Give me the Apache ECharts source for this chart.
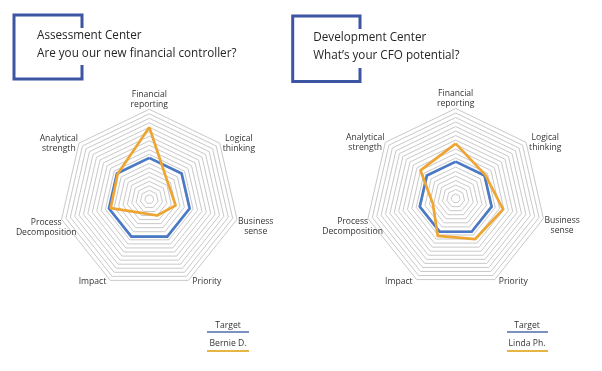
<!DOCTYPE html>
<html>
<head>
<meta charset="utf-8">
<script src="https://cdn.jsdelivr.net/npm/echarts@6/dist/echarts.min.js"></script>
<style>
html,body{margin:0;padding:0;background:#fff;}
#c{width:602px;height:371px;}
</style>
</head>
<body>
<div id="c"></div>
<script>
// ---- data (clockwise from top) ----
const categories = ['Financial reporting', 'Logical thinking', 'Business sense', 'Priority', 'Impact', 'Process Decomposition', 'Analytical strength'];
const leftTarget = [46, 46, 46, 46, 46, 46, 46];
const leftCandidate = [80, 27, 30, 20, 17, 44, 45];
const rightTarget = [41, 41, 41, 41, 41, 41, 41];
const rightCandidate = [61, 42, 54, 50, 46, 26, 50];
const leftTitles = ['Assessment Center', 'Are you our new financial controller?'];
const rightTitles = ['Development Center', 'What\u2019s your CFO potential?'];
const seriesNames = ['Target', 'Bernie D.', 'Linda Ph.'];
const axisMax = 100;

// ECharts places indicators counter-clockwise; reorder to get clockwise layout
const order = [0, 6, 5, 4, 3, 2, 1];
const reorder = arr => order.map(i => arr[i]);

// per-label text offsets to mimic reference placement
// spacer: height of an invisible leading line (shifts label down by spacer/2)
const labelPad = {
  'Financial reporting': {spacer: 0, left: 0, right: 0},
  'Logical thinking': {spacer: 0, left: 3, right: 0},
  'Business sense': {spacer: 15, left: 1, right: 0},
  'Priority': {spacer: 3, left: 4, right: 0},
  'Impact': {spacer: 3, left: 0, right: 4},
  'Process Decomposition': {spacer: 16, left: 0, right: -15},
  'Analytical strength': {spacer: 0, left: 0, right: 1}
};
const rich = {};
categories.forEach((n, i) => {
  const p = labelPad[n];
  rich['t' + i] = {fontSize: 8.6, lineHeight: 10, color: '#333', fontFamily: 'Open Sans', align: 'center', padding: [0, p.right, 0, p.left]};
  rich['s' + i] = {fontSize: 1, lineHeight: Math.max(p.spacer, 1), align: 'center'};
});
function nameFormatter(name) {
  const i = categories.indexOf(name);
  const p = labelPad[name];
  const body = name.split(' ').map(s => '{t' + i + '|' + s + '}').join('\n');
  return (p.spacer > 0 ? '{s' + i + '| }\n' : '') + body;
}

function radarCfg(cx, cy, r) {
  return {
    center: [cx, cy], radius: r, startAngle: 90, shape: 'polygon', splitNumber: 20,
    indicator: reorder(categories).map(n => ({name: n, max: axisMax, min: 0})),
    nameGap: 0,
    axisName: {formatter: nameFormatter, rich: rich, color: '#333', fontSize: 8.6, fontFamily: 'Open Sans'},
    axisLine: {show: false}, axisTick: {show: false}, axisLabel: {show: false},
    splitArea: {show: false},
    splitLine: {lineStyle: {color: '#c9c9c9', width: 1}}
  };
}

const blue = '#4a79c6';
const orange = '#eea533';

function titleGraphics(x0, x1, y0, y1, segTop, segBot, tx, ty, lines) {
  return [
    {type: 'polyline', shape: {points: [[x1, segTop], [x1, y0], [x0, y0], [x0, y1], [x1, y1], [x1, segBot]]},
      style: {stroke: '#3d55a3', lineWidth: 3, fill: null}},
    {type: 'text', x: tx, y: ty, style: {text: lines[0], font: '11.7px "Open Sans"', fill: '#262626', verticalAlign: 'middle'}},
    {type: 'text', x: tx, y: ty + 18, style: {text: lines[1], font: '11.7px "Open Sans"', fill: '#262626', verticalAlign: 'middle'}}
  ];
}
function legendGraphics(cx, x0, x1, name) {
  return [
    {type: 'text', x: cx, y: 325.7, style: {text: seriesNames[0], font: '8.6px "Open Sans"', fill: '#333', align: 'center', verticalAlign: 'middle'}},
    {type: 'line', shape: {x1: x0, y1: 332, x2: x1, y2: 332}, style: {stroke: '#7b91bf', lineWidth: 2}},
    {type: 'text', x: cx, y: 343.7, style: {text: name, font: '8.6px "Open Sans"', fill: '#333', align: 'center', verticalAlign: 'middle'}},
    {type: 'line', shape: {x1: x0, y1: 351, x2: x1, y2: 351}, style: {stroke: '#e5b545', lineWidth: 2}}
  ];
}

const chart = echarts.init(document.getElementById('c'), null, {renderer: 'canvas'});
chart.setOption({
  animation: false,
  backgroundColor: '#fff',
  radar: [radarCfg(149.3, 199.3, 90), radarCfg(455.7, 198.5, 90)],
  series: [
    {type: 'radar', radarIndex: 0, symbol: 'none',
      data: [
        {name: seriesNames[0], value: reorder(leftTarget), lineStyle: {color: blue, width: 2.7}},
        {name: seriesNames[1], value: reorder(leftCandidate), lineStyle: {color: orange, width: 2.7}}
      ]},
    {type: 'radar', radarIndex: 1, symbol: 'none',
      data: [
        {name: seriesNames[0], value: reorder(rightTarget), lineStyle: {color: blue, width: 2.7}},
        {name: seriesNames[2], value: reorder(rightCandidate), lineStyle: {color: orange, width: 2.7}}
      ]}
  ],
  graphic: [].concat(
    titleGraphics(14, 82, 15, 79, 28, 65, 37, 35.5, leftTitles),
    titleGraphics(292.7, 360, 16, 81.5, 29, 68, 313.3, 37.3, rightTitles),
    legendGraphics(228, 207, 249, seriesNames[1]),
    legendGraphics(527, 507, 548, seriesNames[2])
  )
});
</script>
</body>
</html>
